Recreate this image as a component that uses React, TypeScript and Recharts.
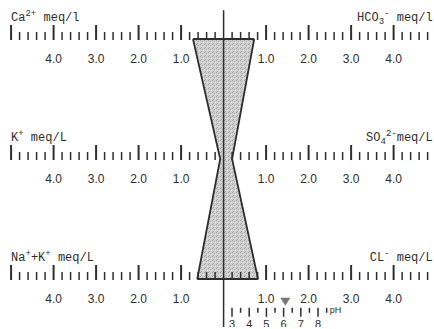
import React from 'react';
import { ComposedChart, Area, Scatter, XAxis, YAxis, ReferenceLine } from 'recharts';

// Rows of the Stiff-type diagram (top, middle, bottom)
const ROWS = [0, 1, 2];
// cations (left side), meq/L : Ca2+, K+, Na+ + K+
const CATIONS = [0.72, 0.08, 0.62];
// anions (right side), meq/L : HCO3-, SO4 2-, Cl-
const ANIONS = [0.72, 0.2, 0.81];

const TICK_VALUES = [0.2, 0.4, 0.6, 0.8, 1.0, 1.2, 1.4, 1.6, 1.8, 2.0, 2.2, 2.4, 2.6, 2.8, 3.0, 3.2, 3.4, 3.6, 3.8, 4.0, 4.2, 4.4, 4.6, 4.8, 5.0];
const TICK_LABELS = ['1.0', '2.0', '3.0', '4.0'];

type Seg = [string, 'n' | 'sup' | 'sub'];
const LEFT_TITLES: Seg[][] = [
  [['Ca', 'n'], ['2+', 'sup'], [' meq/l', 'n']],
  [['K', 'n'], ['+', 'sup'], [' meq/L', 'n']],
  [['Na', 'n'], ['+', 'sup'], ['+K', 'n'], ['+', 'sup'], [' meq/L', 'n']],
];
const RIGHT_TITLES: Seg[][] = [
  [['HCO', 'n'], ['3', 'sub'], ['-', 'sup'], [' meq/l', 'n']],
  [['SO', 'n'], ['4', 'sub'], ['2-', 'sup'], ['meq/L', 'n']],
  [['CL', 'n'], ['-', 'sup'], [' meq/L', 'n']],
];

const PH_TICKS = [3, 3.5, 4, 4.5, 5, 5.5, 6, 6.5, 7, 7.5, 8, 8.5];
const PH_LABELS = ['3', '4', '5', '6', '7', '8'];
const PH_VALUE = 6.1;
const PH_ROW = 2.24;

const INK = '#2e2e2e';

const polygonData = ROWS.map((row, i) => ({ row, range: [-CATIONS[i], ANIONS[i]] }));

const tickData: any[] = [];
ROWS.forEach((row) => {
  [-1, 1].forEach((side) => {
    TICK_VALUES.forEach((v) => {
      const major = Math.abs(v - Math.round(v)) < 1e-6;
      const lab = v.toFixed(1);
      tickData.push({ x: side * v, row, major, label: major && TICK_LABELS.includes(lab) ? lab : '' });
    });
  });
});

const titleData: any[] = [];
ROWS.forEach((row, i) => {
  titleData.push({ x: -5.0, row, segs: LEFT_TITLES[i], anchor: 'start' });
  titleData.push({ x: 4.92, row, segs: RIGHT_TITLES[i], anchor: 'end' });
});

const phTickData = PH_TICKS.map((v) => ({
  x: v,
  row: PH_ROW,
  major: Number.isInteger(v),
  label: PH_LABELS.includes(String(v)) ? String(v) : '',
}));
const phMarker = [{ x: PH_VALUE, row: PH_ROW }];
const phTitle = [{ x: 8.5, row: PH_ROW }];

const TickShape = (p: any) => {
  const { cx, cy, payload } = p;
  const h = payload.major ? 14 : 7;
  return (
    <g>
      <line x1={cx} x2={cx} y1={cy - h} y2={cy + 1} stroke={INK} strokeWidth={payload.major ? 2 : 1.5} />
      {payload.label ? (
        <text x={cx} y={cy + 24} textAnchor="middle" fontFamily="Liberation Sans, Arial, sans-serif" fontSize={12} fill={INK}>
          {payload.label}
        </text>
      ) : null}
    </g>
  );
};

const TitleShape = (p: any) => {
  const { cx, cy, payload } = p;
  let level = 0;
  const spans = payload.segs.map((s: Seg, i: number) => {
    const target = s[1] === 'sup' ? -5 : s[1] === 'sub' ? 3 : 0;
    const dy = target - level;
    level = target;
    return (
      <tspan key={i} dy={dy} fontSize={s[1] === 'n' ? 12 : 9}>
        {s[0]}
      </tspan>
    );
  });
  return (
    <text x={cx} y={cy - 18} textAnchor={payload.anchor} fontFamily="Liberation Mono, Courier New, monospace" fontSize={12} fill={INK} style={{ whiteSpace: 'pre' }}>
      {spans}
    </text>
  );
};

const PhTickShape = (p: any) => {
  const { cx, cy, payload } = p;
  const h = payload.major ? 9 : 5;
  return (
    <g>
      <line x1={cx} x2={cx} y1={cy} y2={cy + h} stroke={INK} strokeWidth={1.5} />
      {payload.label ? (
        <text x={cx} y={cy + 20} textAnchor="middle" fontFamily="Liberation Sans, Arial, sans-serif" fontSize={11} fill={INK}>
          {payload.label}
        </text>
      ) : null}
    </g>
  );
};

const PhMarkerShape = (p: any) => {
  const { cx, cy } = p;
  return <polygon points={`${cx - 5},${cy - 10} ${cx + 5},${cy - 10} ${cx},${cy - 2}`} fill="#777" />;
};

const PhTitleShape = (p: any) => {
  const { cx, cy } = p;
  return (
    <text x={cx + 3} y={cy + 5} fontFamily="Liberation Sans, Arial, sans-serif" fontSize={9} fill={INK}>
      pH
    </text>
  );
};

export default function App() {
  return (
    <div style={{ position: 'absolute', left: 0, top: 0, width: 434, height: 329, background: '#fff' }}>
      <ComposedChart
        width={434}
        height={329}
        layout="vertical"
        data={polygonData}
        margin={{ top: 3, right: 0, bottom: 2, left: 3 }}
      >
        <defs>
          <pattern id="stipple" width="4" height="4" patternUnits="userSpaceOnUse">
            <rect width="4" height="4" fill="#d0d0d0" />
            <rect x="0" y="0" width="1" height="1" fill="#a0a0a0" />
            <rect x="2" y="1" width="1" height="1" fill="#acacac" />
            <rect x="1" y="3" width="1" height="1" fill="#a6a6a6" />
            <rect x="3" y="2" width="1" height="1" fill="#e6e6e6" />
          </pattern>
        </defs>
        <XAxis type="number" dataKey="x" domain={[-5.19, 4.95]} allowDataOverflow hide />
        <XAxis xAxisId="ph" type="number" dataKey="x" domain={[-10.31, 14.74]} allowDataOverflow hide />
        <YAxis type="number" dataKey="row" domain={[-0.3, 2.4]} allowDataOverflow hide />
        <Area
          type="linear"
          dataKey="range"
          stroke={INK}
          strokeWidth={1.8}
          fill="url(#stipple)"
          fillOpacity={1}
          isAnimationActive={false}
          dot={false}
          activeDot={false}
        />
        <ReferenceLine
          segment={[{ x: -CATIONS[0], y: ROWS[0] }, { x: ANIONS[0], y: ROWS[0] }]}
          stroke={INK}
          strokeWidth={1.8}
        />
        <ReferenceLine
          segment={[{ x: -CATIONS[2], y: ROWS[2] }, { x: ANIONS[2], y: ROWS[2] }]}
          stroke={INK}
          strokeWidth={1.8}
        />
        <ReferenceLine segment={[{ x: 0, y: -0.24 }, { x: 0, y: 2.4 }]} stroke={INK} strokeWidth={1.5} />
        <Scatter data={tickData} shape={TickShape} isAnimationActive={false} />
        <Scatter data={titleData} shape={TitleShape} isAnimationActive={false} />
        <Scatter xAxisId="ph" data={phTickData} shape={PhTickShape} isAnimationActive={false} />
        <Scatter xAxisId="ph" data={phMarker} shape={PhMarkerShape} isAnimationActive={false} />
        <Scatter xAxisId="ph" data={phTitle} shape={PhTitleShape} isAnimationActive={false} />
      </ComposedChart>
    </div>
  );
}
